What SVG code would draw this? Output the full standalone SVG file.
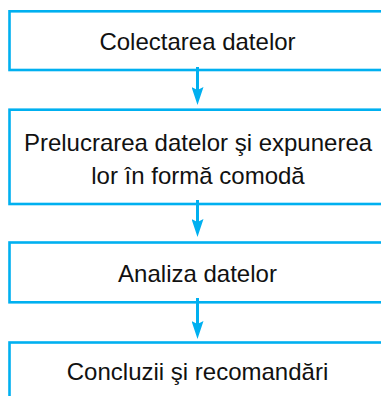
<svg xmlns="http://www.w3.org/2000/svg" width="381" height="396" viewBox="0 0 381 396">
<style>
.box{fill:#FFFFFF;stroke:#00B0F0;stroke-width:2.6}
.lbl{font-family:"Liberation Sans",Arial,sans-serif;font-size:24px;fill:#111111;text-anchor:middle}
.conn{stroke:#00B0F0;stroke-width:3;fill:none}
</style>
<defs>
<marker id="ah" markerUnits="userSpaceOnUse" markerWidth="18" markerHeight="12" refX="3" refY="6" orient="auto" viewBox="0 0 18 12">
<path d="M0,0 L18,6 L0,12 L3,6 Z" fill="#00B0F0"/>
</marker>
</defs>
<rect width="381" height="396" fill="#FFFFFF"/>
<g id="n1">
<rect class="box" x="9.5" y="11.3" width="377" height="58.7"/>
<text class="lbl" x="197.5" y="49.5">Colectarea datelor</text>
</g>
<g id="n2">
<rect class="box" x="9.5" y="109.7" width="377" height="94.3"/>
<text class="lbl" x="198" y="150.5">Prelucrarea datelor şi expunerea</text>
<text class="lbl" x="198" y="183.5">lor în formă comodă</text>
</g>
<g id="n3">
<rect class="box" x="9.5" y="242.5" width="377" height="59.8"/>
<text class="lbl" x="197.5" y="282">Analiza datelor</text>
</g>
<g id="n4">
<rect class="box" x="9.5" y="342.5" width="377" height="70"/>
<text class="lbl" x="197.5" y="379.5">Concluzii şi recomandări</text>
</g>
<g id="connectors">
<line class="conn" x1="197.5" y1="67" x2="197.5" y2="90" marker-end="url(#ah)"/>
<line class="conn" x1="197.5" y1="200" x2="197.5" y2="222" marker-end="url(#ah)"/>
<line class="conn" x1="197.5" y1="298" x2="197.5" y2="324" marker-end="url(#ah)"/>
</g>
</svg>
